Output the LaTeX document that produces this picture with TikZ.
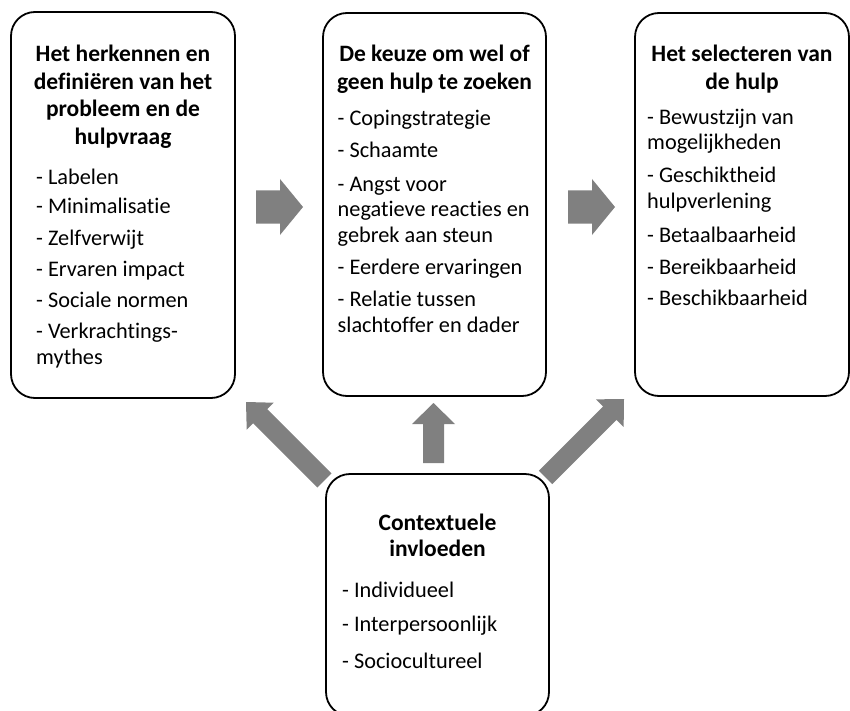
\documentclass[tikz,border=0pt]{standalone}
\usepackage{fontspec}
\setmainfont{Carlito}[Ligatures={NoCommon,NoRare,NoContextual}]
\definecolor{arrowgray}{RGB}{128,128,128}
\newcommand\blockarrow[8]{% name, tip x, tip y, angle, length, head length, head half, shaft half
  \begin{scope}[shift={(#2,#3)}, rotate=#4]
    \fill[arrowgray] (0,0) coordinate (#1) -- (-#6,#7) -- (-#6,#8) -- (-#5,#8) -- (-#5,-#8) -- (-#6,-#8) -- (-#6,-#7) -- cycle;
  \end{scope}}
\begin{document}
\begin{tikzpicture}[x=1pt,y=-1pt,
  box/.style={draw=black, line width=1.8pt, rounded corners=24pt, fill=white, inner sep=0pt},
  titletext/.style={font=\bfseries\fontsize{23.5}{27.5}\selectfont, anchor=base, inner sep=0pt},
  itemtext/.style={font=\fontsize{22.3}{25.5}\selectfont, anchor=base west, inner sep=0pt}]
\useasboundingbox (0,0) rectangle (850,711);
\clip (0,0) rectangle (850,711);
\fill[white] (0,0) rectangle (850,711);
% boxes
\node[box, minimum width=224pt, minimum height=386pt] (b1) at (123,205) {};
\node[box, minimum width=223pt, minimum height=383pt] (b2) at (434.5,204.5) {};
\node[box, minimum width=214pt, minimum height=383pt] (b3) at (742,204.5) {};
\node[box, minimum width=223pt, minimum height=242pt] (b4) at (437.5,595) {};
% box 1 text
\foreach \yy/\tt [count=\i] in {62/{Het herkennen en}, 89.5/{definiëren van het}, 117/{probleem en de}, 144.5/{hulpvraag}}
  \node[titletext] (b1t\i) at (123,\yy) {\tt};
\foreach \yy/\tt [count=\i] in {184.5/{- Labelen}, 214/{- Minimalisatie}, 245/{- Zelfverwijt}, 276/{- Ervaren impact}, 307/{- Sociale normen}, 338/{- Verkrachtings-}, 364/{mythes}}
  \node[itemtext] (b1i\i) at (36,\yy) {\tt};
% box 2 text
\foreach \yy/\tt [count=\i] in {62/{De keuze om wel of}, 89.5/{geen hulp te zoeken}}
  \node[titletext] (b2t\i) at (434.5,\yy) {\tt};
\foreach \yy/\tt [count=\i] in {126/{- Copingstrategie}, 158/{- Schaamte}, 191.5/{- Angst voor}, 217/{negatieve reacties en}, 242.5/{gebrek aan steun}, 274.5/{- Eerdere ervaringen}, 306.5/{- Relatie tussen}, 332/{slachtoffer en dader}}
  \node[itemtext] (b2i\i) at (337.5,\yy) {\tt};
% box 3 text
\foreach \yy/\tt [count=\i] in {62/{Het selecteren van}, 89.5/{de hulp}}
  \node[titletext] (b3t\i) at (742,\yy) {\tt};
\foreach \yy/\tt [count=\i] in {124.5/{- Bewustzijn van}, 150/{mogelijkheden}, 183/{- Geschiktheid}, 208.5/{hulpverlening}, 242/{- Betaalbaarheid}, 274/{- Bereikbaarheid}, 305.5/{- Beschikbaarheid}}
  \node[itemtext] (b3i\i) at (647,\yy) {\tt};
% box 4 text
\foreach \yy/\tt [count=\i] in {530/{Contextuele}, 556/{invloeden}}
  \node[titletext] (b4t\i) at (437.5,\yy) {\tt};
\foreach \yy/\tt [count=\i] in {597.5/{- Individueel}, 631.5/{- Interpersoonlijk}, 668/{- Sociocultureel}}
  \node[itemtext] (b4i\i) at (342,\yy) {\tt};
% block arrows
\blockarrow{a12}{303}{207}{0}{47}{23}{28}{16.5}
\blockarrow{a23}{615}{207}{0}{47}{23}{28}{16.5}
\blockarrow{a42}{433.5}{403}{90}{60}{21}{21.5}{10.5}
\blockarrow{a41}{246}{402}{135}{111}{20}{19}{10}
\blockarrow{a43}{624}{399}{45}{111}{20}{19.5}{9.5}
\end{tikzpicture}
\end{document}
